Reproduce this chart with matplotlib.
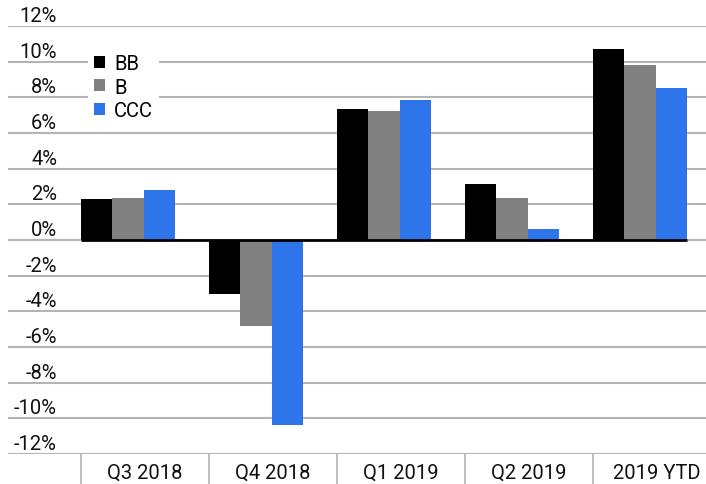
import matplotlib
matplotlib.use("Agg")
import matplotlib.pyplot as plt
from matplotlib.patches import Patch
from matplotlib.transforms import blended_transform_factory
import numpy as np

plt.rcParams["font.family"] = ["Roboto", "DejaVu Sans"]

categories = ["Q3 2018", "Q4 2018", "Q1 2019", "Q2 2019", "2019 YTD"]
series_names = ["BB", "B", "CCC"]
bb = [2.3, -3.0, 7.35, 3.15, 10.7]
b = [2.35, -4.85, 7.25, 2.35, 9.8]
ccc = [2.8, -10.35, 7.85, 0.62, 8.5]
yticks = list(range(-12, 13, 2))

colors = ["#000000", "#808080", "#2e75eb"]

W, H = 706, 485
fig = plt.figure(figsize=(W / 100, H / 100), dpi=100)
# axes spans the gridline area: x 8..706 px, y 27..455 px
ax = fig.add_axes([8 / W, (H - 455) / H, (W - 8) / W, (455 - 27) / H])
cat_w = 128.0
x0 = -(81 - 8) / cat_w
ax.set_xlim(x0, x0 + (W - 8) / cat_w)
ax.set_ylim(-12, 12)

bw = 0.245
x = np.arange(len(categories))
for k, (vals, name) in enumerate(zip([bb, b, ccc], series_names)):
    ax.bar(x + k * bw, vals, width=bw, align="edge", color=colors[k], zorder=3, label=name)

for yt in yticks:
    ax.axhline(yt, color="#b4b4b4", linewidth=1.5, zorder=1)
ax.hlines(0, 0, len(categories) - 1 + 3 * bw, color="black", linewidth=2, zorder=4)

trans = blended_transform_factory(ax.transAxes, ax.transData)
for yt in yticks:
    ax.text((57 - 8) / (W - 8), yt + 0.05, f"{yt}%", transform=trans,
            ha="right", va="bottom", fontsize=14.5, color="#111111")

for a in ["top", "right", "left", "bottom"]:
    ax.spines[a].set_visible(False)
ax.set_xticks([])
ax.set_yticks([])

# category separators and labels below the plot
for i in range(len(categories)):
    ax.plot([i, i], [-12, -13.8], color="#b4b4b4", linewidth=1.2, clip_on=False)
    ax.text(i + 0.5, -13.05, categories[i], ha="center", va="center",
            fontsize=14.5, color="#111111", clip_on=False)

handles = [Patch(facecolor=c, edgecolor="none") for c in colors]
leg = fig.legend(handles, series_names, loc="upper left",
                 bbox_to_anchor=(78 / W, 1 - 39 / H), frameon=True,
                 facecolor="white", edgecolor="none", framealpha=1,
                 fontsize=14.5, handlelength=0.55, handleheight=0.55,
                 handletextpad=0.45, labelspacing=0.22, borderpad=0.3)

fig.savefig("out.png", dpi=100)
